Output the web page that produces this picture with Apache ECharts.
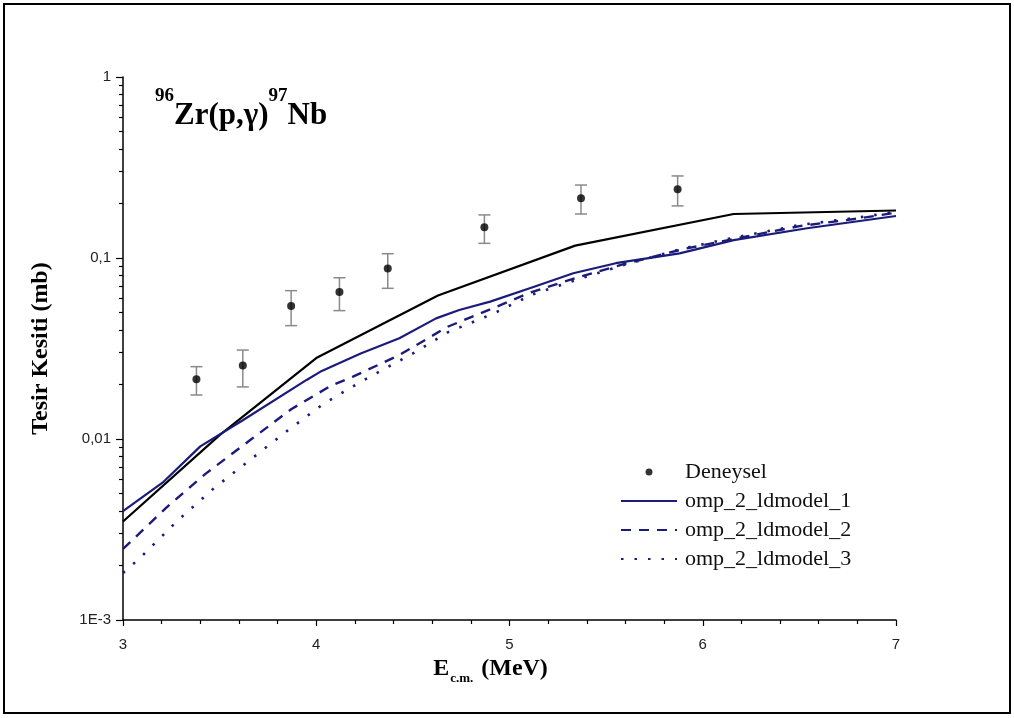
<!DOCTYPE html>
<html>
<head>
<meta charset="utf-8">
<script src="https://cdn.jsdelivr.net/npm/echarts@6/dist/echarts.min.js"></script>
<style>
  html, body { margin: 0; padding: 0; background: #ffffff; }
  #chart { width: 1014px; height: 718px; }
</style>
</head>
<body>
<div id="chart"></div>
<script>
// ---------- data ----------
const expE    = [3.38, 3.62, 3.87, 4.12, 4.37, 4.87, 5.37, 5.87];
const expY    = [0.0214, 0.0255, 0.0543, 0.0649, 0.0875, 0.148, 0.214, 0.240];
const expLow  = [0.0175, 0.0194, 0.0423, 0.0512, 0.068, 0.1205, 0.175, 0.194];
const expHigh = [0.0251, 0.0310, 0.0660, 0.0778, 0.1056, 0.173, 0.253, 0.284];

const blackE = [3.0, 3.5, 4.0, 4.63, 5.34, 6.16, 7.0];
const blackY = [0.0035, 0.0105, 0.028, 0.062, 0.117, 0.175, 0.183];

const m1E = [3.0, 3.21, 3.40, 3.62, 3.95, 4.02, 4.23, 4.43, 4.62, 4.74, 4.90, 5.12, 5.33, 5.55, 5.88, 6.16, 6.54, 7.0];
const m1Y = [0.0040, 0.0058, 0.0091, 0.0127, 0.0212, 0.0235, 0.0297, 0.036, 0.0464, 0.0516, 0.0574, 0.069, 0.0824, 0.0936, 0.106, 0.1256, 0.146, 0.1706];

const m2E = [3.0, 3.23, 3.43, 3.66, 3.87, 4.08, 4.19, 4.43, 4.68, 4.90, 5.10, 5.35, 5.60, 5.90, 6.20, 6.50, 6.80, 7.0];
const m2Y = [0.00247, 0.00423, 0.00646, 0.0099, 0.0146, 0.0198, 0.0221, 0.0291, 0.0417, 0.052, 0.064, 0.078, 0.093, 0.112, 0.130, 0.150, 0.165, 0.178];

const m3E = [3.0, 3.09, 3.28, 3.47, 3.66, 3.85, 4.04, 4.23, 4.50, 4.68, 4.92, 5.12, 5.35, 5.60, 5.90, 6.20, 6.50, 6.80, 7.0];
const m3Y = [0.00182, 0.00221, 0.00352, 0.00534, 0.0077, 0.0111, 0.0157, 0.0207, 0.0297, 0.0388, 0.0495, 0.063, 0.076, 0.092, 0.113, 0.132, 0.152, 0.167, 0.180];

const seriesNames = ['Deneysel', 'omp_2_ldmodel_1', 'omp_2_ldmodel_2', 'omp_2_ldmodel_3'];
const yLabelMap = { '0': '1', '-1': '0,1', '-2': '0,01', '-3': '1E-3' };
const minorMult = [2, 3, 4, 5, 6, 7, 8, 9];
const decades = [0.001, 0.01, 0.1];

// ---------- helpers ----------
const zip = (a, b) => a.map((v, i) => [v, b[i]]);
const minorTickVals = [];
decades.forEach(d => minorMult.forEach(m => minorTickVals.push(+(d * m).toPrecision(3))));
const errData = expE.map((e, i) => [e, expLow[i], expHigh[i]]);

const NAVY = '#1b1b7a';
const serif = '"Liberation Serif", "Times New Roman", serif';
const sans = '"Liberation Sans", Arial, sans-serif';

const chart = echarts.init(document.getElementById('chart'), null, { renderer: 'canvas' });

const option = {
  backgroundColor: '#ffffff',
  animation: false,
  title: {
    left: 150,
    top: 82,
    text: '{sup|96}{t|Zr(p,\u03b3)}{sup|97}{t|Nb}',
    textStyle: {
      rich: {
        t: { fontFamily: serif, fontWeight: 'bold', fontSize: 31, color: '#000', lineHeight: 58 },
        sup: { fontFamily: serif, fontWeight: 'bold', fontSize: 19, color: '#000', lineHeight: 20, verticalAlign: 'top' }
      }
    }
  },
  graphic: [{
    type: 'rect',
    shape: { x: 4, y: 4, width: 1006, height: 709 },
    style: { fill: 'none', stroke: '#000', lineWidth: 2 },
    silent: true,
    z: 100
  }],
  legend: {
    orient: 'vertical',
    left: 615,
    top: 456,
    itemWidth: 56,
    itemHeight: 7,
    itemGap: 7,
    data: [
      { name: seriesNames[0], icon: 'circle' },
      { name: seriesNames[1], itemStyle: { opacity: 0 } },
      { name: seriesNames[2], itemStyle: { opacity: 0 } },
      { name: seriesNames[3], itemStyle: { opacity: 0 } }
    ],
    textStyle: { fontFamily: serif, fontSize: 22, color: '#111', lineHeight: 22, padding: [0, 0, 0, 3] }
  },
  grid: { left: 123, right: 118, top: 77, bottom: 98 },
  xAxis: {
    type: 'value',
    min: 3, max: 7, interval: 1,
    name: '{b|E}{s|c.m.}{b| (MeV)}',
    nameLocation: 'middle',
    nameGap: 30,
    nameTextStyle: {
      padding: [0, 38, 0, 0],
      rich: {
        b: { fontFamily: serif, fontWeight: 'bold', fontSize: 24, color: '#000', lineHeight: 28, verticalAlign: 'top' },
        s: { fontFamily: serif, fontWeight: 'bold', fontSize: 13, color: '#000', lineHeight: 28, verticalAlign: 'bottom', padding: [0, 2, 0, 1] }
      }
    },
    axisLine: { lineStyle: { color: '#000', width: 1.5 } },
    axisTick: { length: 6, lineStyle: { color: '#000', width: 1.2 } },
    minorTick: { show: true, splitNumber: 5, length: 4, lineStyle: { color: '#000', width: 1.2 } },
    axisLabel: { fontFamily: sans, fontSize: 15, color: '#222', margin: 17 },
    splitLine: { show: false }
  },
  yAxis: [{
    type: 'log',
    logBase: 10,
    min: 0.001, max: 1,
    name: 'Tesir Kesiti (mb)',
    nameLocation: 'middle',
    nameGap: 70,
    nameRotate: 90,
    nameTextStyle: { fontFamily: serif, fontWeight: 'bold', fontSize: 24, color: '#000' },
    axisLine: { show: true, lineStyle: { color: '#000', width: 1.5 } },
    axisTick: { show: true, length: 7, lineStyle: { color: '#000', width: 1.2 } },
    axisLabel: {
      fontFamily: sans, fontSize: 15, color: '#222', margin: 12,
      formatter: v => yLabelMap[String(Math.round(Math.log10(v)))] || ''
    },
    splitLine: { show: false }
  }, {
    type: 'log',
    logBase: 10,
    min: 0.001, max: 1,
    position: 'left',
    axisLine: { show: false },
    axisTick: { show: true, length: 4, customValues: minorTickVals, lineStyle: { color: '#000', width: 1.2 } },
    axisLabel: { show: false },
    splitLine: { show: false }
  }],
  series: [
    {
      name: 'black',
      type: 'line',
      data: zip(blackE, blackY),
      symbol: 'none',
      lineStyle: { color: '#000', width: 2.2 },
      z: 3
    },
    {
      name: seriesNames[1],
      type: 'line',
      data: zip(m1E, m1Y),
      symbol: 'none',
      itemStyle: { color: NAVY },
      lineStyle: { color: NAVY, width: 2.2 },
      z: 4
    },
    {
      name: seriesNames[2],
      type: 'line',
      data: zip(m2E, m2Y),
      symbol: 'none',
      itemStyle: { color: NAVY },
      lineStyle: { color: NAVY, width: 2.4, type: [10, 8] },
      z: 4
    },
    {
      name: seriesNames[3],
      type: 'line',
      data: zip(m3E, m3Y),
      symbol: 'none',
      itemStyle: { color: NAVY },
      lineStyle: { color: NAVY, width: 2.6, type: [2.5, 11] },
      z: 4
    },
    {
      name: 'errors',
      type: 'custom',
      data: errData,
      renderItem: function (params, api) {
        const x = api.value(0);
        const lo = api.coord([x, api.value(1)]);
        const hi = api.coord([x, api.value(2)]);
        const w = 6;
        const st = { stroke: '#8a8a8a', lineWidth: 1.5 };
        return {
          type: 'group',
          children: [
            { type: 'line', shape: { x1: lo[0], y1: lo[1], x2: hi[0], y2: hi[1] }, style: st },
            { type: 'line', shape: { x1: lo[0] - w, y1: lo[1], x2: lo[0] + w, y2: lo[1] }, style: st },
            { type: 'line', shape: { x1: hi[0] - w, y1: hi[1], x2: hi[0] + w, y2: hi[1] }, style: st }
          ]
        };
      },
      z: 5
    },
    {
      name: seriesNames[0],
      type: 'scatter',
      data: zip(expE, expY),
      symbol: 'circle',
      symbolSize: 8,
      itemStyle: { color: '#000' },
      z: 6
    }
  ]
};

chart.setOption(option);
</script>
</body>
</html>
